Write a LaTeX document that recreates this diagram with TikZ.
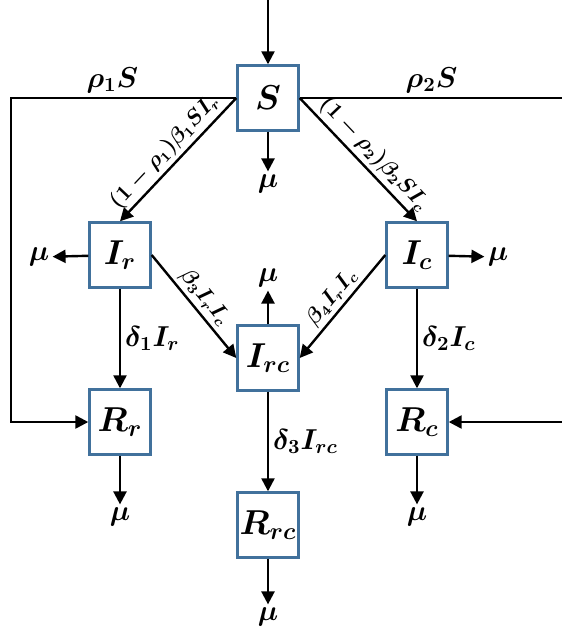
\documentclass[tikz,border=0pt]{standalone}
\usetikzlibrary{arrows.meta,positioning}
\definecolor{BoxEdge}{HTML}{41719C}
\tikzset{
  every node/.style={text=black},
  compartment/.style={draw=BoxEdge, line width=1.2pt, fill=white, minimum width=30.5pt, minimum height=32.5pt, inner sep=0pt, font=\fontsize{18.5}{20}\selectfont\boldmath},
  flow/.style={-{Triangle[length=6.5pt,width=6.5pt]}, draw=black, line width=1.2pt},
  rate/.style={font=\fontsize{14}{16}\selectfont\boldmath, inner sep=2pt},
  slantrate/.style={font=\fontsize{10.5}{12}\selectfont\boldmath, sloped, above, inner sep=1.5pt},
  death/.style={font=\fontsize{15}{17}\selectfont\boldmath, inner sep=1.5pt},
}
\begin{document}
\begin{tikzpicture}[x=0.5pt,y=-0.5pt]
  \clip (0,0) rectangle (562,628);
  % compartments
  \node[compartment] (S) at (268,98) {$S$};
  \node[compartment] (Ir) at (120,255) {$I_r$};
  \node[compartment] (Ic) at (417,255) {$I_c$};
  \node[compartment] (Irc) at (268,358) {$I_{rc}$};
  \node[compartment] (Rr) at (120,422) {$R_r$};
  \node[compartment] (Rc) at (417,422) {$R_c$};
  \node[compartment] (Rrc) at (268,525) {$R_{rc}$};
  % deaths
  \node[death] (muS) at (268,184) {$\mu$};
  \node[death] (muIr) at (39,257) {$\mu$};
  \node[death] (muIc) at (498,257) {$\mu$};
  \node[death] (muIrc) at (268,278) {$\mu$};
  \node[death] (muRr) at (120,517) {$\mu$};
  \node[death] (muRc) at (417,517) {$\mu$};
  \node[death] (muRrc) at (268,617) {$\mu$};
  % outer corners
  \coordinate (inflow) at (268,0);
  \coordinate (leftTop) at (11,98);
  \coordinate (rightTop) at (580,98);
  % flows
  \draw[flow] (inflow) -- (S.north);
  \draw[flow] (S.west) -- node[rate, above, pos=0.55] {$\rho_1 S$} (leftTop) |- (Rr.west);
  \draw[flow] (S.east) -- node[rate, above, pos=0.47] {$\rho_2 S$} (rightTop) |- (Rc.east);
  \draw[flow] (S.west) -- node[slantrate, pos=0.52] {$(1-\rho_1)\beta_1 S I_r$} (Ir.north);
  \draw[flow] (S.east) -- node[slantrate, pos=0.54] {$(1-\rho_2)\beta_2 S I_c$} (Ic.north);
  \draw[flow] (Ir.east) -- node[slantrate] {$\beta_3 I_r I_c$} (Irc.west);
  \draw[flow] (Ic.west) -- node[slantrate] {$\beta_4 I_r I_c$} (Irc.east);
  \draw[flow] (Ir) -- node[rate, right] {$\delta_1 I_r$} (Rr);
  \draw[flow] (Ic) -- node[rate, right] {$\delta_2 I_c$} (Rc);
  \draw[flow] (Irc) -- node[rate, right] {$\delta_3 I_{rc}$} (Rrc);
  \draw[flow] (S) -- (muS);
  \draw[flow] (Ir) -- (muIr);
  \draw[flow] (Ic) -- (muIc);
  \draw[flow] (Irc) -- (muIrc);
  \draw[flow] (Rr) -- (muRr);
  \draw[flow] (Rc) -- (muRc);
  \draw[flow] (Rrc) -- (muRrc);
\end{tikzpicture}
\end{document}
